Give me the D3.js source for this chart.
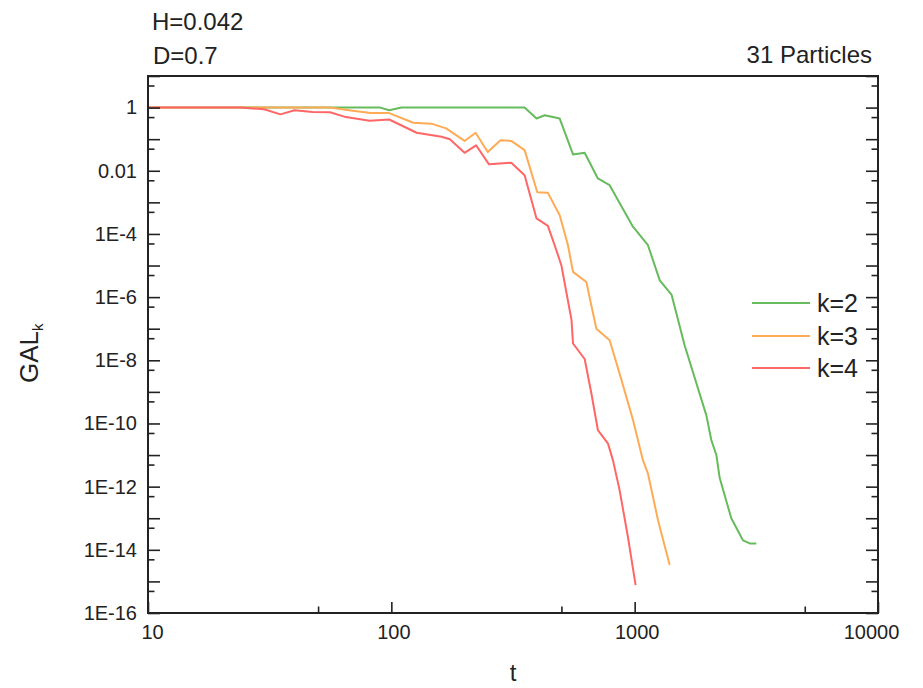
<!DOCTYPE html>
<html><head><meta charset="utf-8">
<script src="https://cdn.jsdelivr.net/npm/d3@7"></script>
<style>
html,body{margin:0;padding:0;background:#fff;}
text{font-family:"Liberation Sans",Arial,sans-serif;fill:#222;}
</style></head>
<body><svg id="chart" width="923" height="688"></svg>
<script>
// ---- data ----
const seriesNames = ["k=2", "k=3", "k=4"];
const tK2 = [10, 90, 98, 110, 353, 395, 427, 492, 558, 623, 706, 789, 984, 1134, 1268, 1417, 1604, 1971, 2065, 2167, 2235, 2495, 2786, 2971, 3162];
const vK2 = [1, 1, 0.82, 1, 1, 0.45, 0.57, 0.45, 0.033, 0.037, 5.7e-3, 3.5e-3, 1.7e-4, 4.4e-5, 3.4e-6, 1.2e-6, 3.0e-8, 1.8e-10, 3.0e-11, 1.0e-11, 1.9e-12, 1.0e-13, 2.0e-14, 1.6e-14, 1.6e-14];
const tK3 = [10, 56, 67, 82, 98, 123, 146, 168, 200, 222, 249, 281, 311, 353, 398, 440, 492, 532, 558, 633, 696, 789, 867, 984, 1081, 1134, 1247, 1393];
const vK3 = [1, 1, 0.82, 0.67, 0.67, 0.33, 0.31, 0.22, 0.088, 0.16, 0.039, 0.092, 0.088, 0.045, 2.1e-3, 2.0e-3, 3.9e-4, 4.4e-5, 6.3e-6, 3.0e-6, 1.0e-7, 4.3e-8, 3.8e-9, 1.3e-10, 6.9e-12, 2.6e-12, 8.7e-14, 3.3e-15];
const tK4 = [10, 24, 30, 35, 40, 47.5, 56, 65, 81.5, 98, 127, 161, 174, 200, 223, 252, 311, 353, 395, 440, 477, 500, 516, 550, 558, 623, 664, 706, 777, 814, 867, 938, 1009];
const vK4 = [1, 1, 0.89, 0.61, 0.82, 0.73, 0.71, 0.50, 0.38, 0.42, 0.16, 0.12, 0.10, 0.037, 0.064, 0.016, 0.018, 7.2e-3, 3.1e-4, 1.8e-4, 3.0e-5, 1.0e-5, 2.7e-6, 1.9e-7, 3.4e-8, 1.1e-8, 8.9e-10, 6.2e-11, 2.3e-11, 6.9e-12, 7.8e-13, 2.6e-14, 7.6e-16];
const xTickValues = [10, 100, 1000, 10000];
const xTickLabels = ["10", "100", "1000", "10000"];
const xMinorTicks = [50, 500, 5000];
const yTickValues = [1, 1e-2, 1e-4, 1e-6, 1e-8, 1e-10, 1e-12, 1e-14, 1e-16];
const yTickLabels = ["1", "0.01", "1E-4", "1E-6", "1E-8", "1E-10", "1E-12", "1E-14", "1E-16"];
const yDecadeTicks = [10, 1, 1e-1, 1e-2, 1e-3, 1e-4, 1e-5, 1e-6, 1e-7, 1e-8, 1e-9, 1e-10, 1e-11, 1e-12, 1e-13, 1e-14, 1e-15, 1e-16];
const yMinorTicks = [5, 5e-1, 5e-2, 5e-3, 5e-4, 5e-5, 5e-6, 5e-7, 5e-8, 5e-9, 5e-10, 5e-11, 5e-12, 5e-13, 5e-14, 5e-15, 5e-16];
const titleLines = ["H=0.042", "D=0.7"];
const particlesLabel = "31 Particles";

// ---- layout ----
const L = 148, R = 878, T = 76, B = 613;
const colors = ["#66bb5c", "#ffaa55", "#ff6666"];
const svg = d3.select("#chart");
const x = d3.scaleLog().domain([10, 10000]).range([L, R]);
const y = d3.scaleLog().domain([1e-16, 10]).range([B, T]);

const series = [
  tK2.map((t, i) => [t, vK2[i]]),
  tK3.map((t, i) => [t, vK3[i]]),
  tK4.map((t, i) => [t, vK4[i]])
];

const line = d3.line().x(d => x(d[0])).y(d => y(d[1]));
series.forEach((s, i) => {
  svg.append("path").datum(s).attr("d", line)
    .attr("fill", "none").attr("stroke", colors[i]).attr("stroke-width", 2)
    .attr("stroke-linejoin", "round");
});

function styleAxis(g) {
  g.select(".domain").remove();
  g.selectAll("line").attr("stroke", "#222").attr("stroke-width", 1.6);
}
// left axis
svg.append("g").attr("transform", `translate(${L},0)`)
  .call(d3.axisLeft(y).tickValues(yDecadeTicks).tickSize(-12).tickFormat("")).call(styleAxis);
svg.append("g").attr("transform", `translate(${L},0)`)
  .call(d3.axisLeft(y).tickValues(yMinorTicks).tickSize(-6.5).tickFormat("")).call(styleAxis);
const yl = svg.append("g").attr("transform", `translate(${L},0)`)
  .call(d3.axisLeft(y).tickValues(yTickValues).tickSize(0).tickPadding(11)
    .tickFormat((d, i) => yTickLabels[i]));
yl.select(".domain").remove();
yl.selectAll("text").attr("font-size", 20).attr("font-family", "Liberation Sans, Arial, sans-serif").attr("fill", "#222");
// right axis
svg.append("g").attr("transform", `translate(${R},0)`)
  .call(d3.axisRight(y).tickValues(yDecadeTicks).tickSize(-12).tickFormat("")).call(styleAxis);
svg.append("g").attr("transform", `translate(${R},0)`)
  .call(d3.axisRight(y).tickValues(yMinorTicks).tickSize(-6.5).tickFormat("")).call(styleAxis);
// bottom axis
svg.append("g").attr("transform", `translate(0,${B})`)
  .call(d3.axisBottom(x).tickValues(xTickValues).tickSize(-11).tickFormat("")).call(styleAxis);
svg.append("g").attr("transform", `translate(0,${B})`)
  .call(d3.axisBottom(x).tickValues(xMinorTicks).tickSize(-6.5).tickFormat("")).call(styleAxis);
const xl = svg.append("g").attr("transform", `translate(0,${B})`)
  .call(d3.axisBottom(x).tickValues(xTickValues).tickSize(0).tickPadding(12)
    .tickFormat((d, i) => xTickLabels[i]));
xl.select(".domain").remove();
xl.selectAll("text").attr("font-size", 20).attr("font-family", "Liberation Sans, Arial, sans-serif").attr("fill", "#222")
  .attr("dx", (d, i) => i === xTickValues.length - 1 ? -7 : (i === 0 ? 4 : 2));

// frame
svg.append("rect").attr("x", L).attr("y", T).attr("width", R - L).attr("height", B - T)
  .attr("fill", "none").attr("stroke", "#222").attr("stroke-width", 2);

// titles
svg.append("text").attr("x", 152).attr("y", 30).attr("font-size", 24).text(titleLines[0]);
svg.append("text").attr("x", 153).attr("y", 64).attr("font-size", 24).text(titleLines[1]);
svg.append("text").attr("x", 872).attr("y", 63).attr("font-size", 24).attr("text-anchor", "end").text(particlesLabel);

// axis titles
svg.append("text").attr("x", 513).attr("y", 681).attr("font-size", 24).attr("text-anchor", "middle").text("t");
const yt = svg.append("text").attr("transform", "translate(38,383) rotate(-90)").attr("font-size", 26);
yt.append("tspan").text("GAL");
yt.append("tspan").attr("font-size", 15).attr("dy", 5).text("k");

// legend
const legY = [303, 336, 368];
seriesNames.forEach((n, i) => {
  svg.append("line").attr("x1", 752).attr("x2", 810).attr("y1", legY[i]).attr("y2", legY[i])
    .attr("stroke", colors[i]).attr("stroke-width", 2);
  svg.append("text").attr("x", 817).attr("y", legY[i] + 9).attr("font-size", 25).text(n);
});
</script></body></html>
